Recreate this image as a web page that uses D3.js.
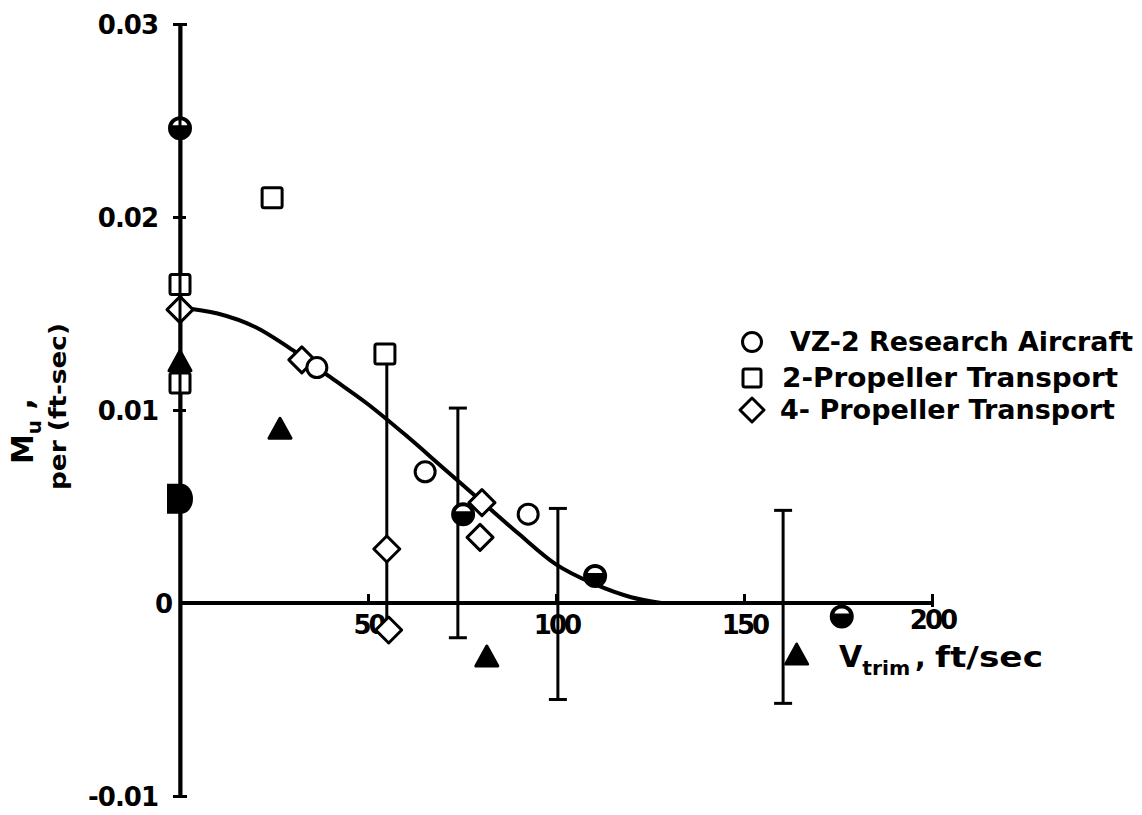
<!DOCTYPE html>
<html>
<head>
<meta charset="utf-8">
<script src="https://cdn.jsdelivr.net/npm/d3@7/dist/d3.min.js"></script>
<style>
  html, body { margin: 0; padding: 0; background: #fff; }
  svg { display: block; }
  text { font-family: "DejaVu Sans", sans-serif; font-weight: bold; fill: #000; }
</style>
</head>
<body>
<svg id="chart" width="1142" height="815"></svg>
<script>
// Pitching moment due to speed, Mu, against trim speed

// Y-axis tick values and labels
const yTicks = [0.03, 0.02, 0.01, 0, -0.01];
const yTickLabels = ["0.03", "0.02", "0.01", "0", "-0.01"];
// X-axis tick values and labels
const xTicks = [50, 100, 150, 200];
const xTickLabels = ["50", "100", "150", "200"];

// VZ-2 research aircraft (open circles)
const vz2V = [36.4, 65.2, 92.6];
const vz2M = [0.0122, 0.0068, 0.0046];
// VZ-2 research aircraft (half-filled circles)
const vz2HalfV = [0, 75.3, 110.4, 176];
const vz2HalfM = [0.0246, 0.0046, 0.0014, -0.0007];

// 2-propeller transport (open squares)
const twoPropV = [0, 0, 24.5, 54.5];
const twoPropM = [0.0165, 0.0114, 0.0210, 0.0129];

// 4-propeller transport (open diamonds)
const fourPropV = [0, 32.4, 55, 55.5, 80.3, 79.8];
const fourPropM = [0.0152, 0.0126, 0.0028, -0.0014, 0.0052, 0.0034];

// Solid triangles
const triV = [0, 26.6, 81.6, 164];
const triM = [0.0125, 0.0090, -0.0028, -0.0027];

// Solid D-shaped point
const solidDV = [0];
const solidDM = [0.0054];

// Scatter bars
const barV = [55, 73.9, 100.5, 160.4];
const barLo = [-0.0014, -0.0018, -0.0050, -0.0052];
const barHi = [0.0129, 0.0101, 0.0049, 0.0048];
const barCapped = [false, true, true, true];

// Faired curve
const curveV = [0, 10, 20, 30, 40, 50, 60, 70, 80, 90, 100, 110, 120, 128];
const curveM = [0.0153, 0.0150, 0.0143, 0.0131, 0.0117, 0.0103, 0.0087, 0.0070, 0.0053, 0.0036, 0.0020, 0.0010, 0.0003, 0];

// Legend
const legendLabels = ["VZ-2 Research Aircraft", "2-Propeller Transport", "4- Propeller Transport"];
const legendShapes = ["circle", "square", "diamond"];

const svg = d3.select("#chart");
const x = d3.scaleLinear().domain([0, 200]).range([180, 932]);
const y = d3.scaleLinear().domain([-0.01, 0.03]).range([796, 24]);

const zip = (a, b) => a.map((v, i) => ({ v, m: b[i] }));
const INK = "#000";

// ---- Y axis ----
const yAxis = d3.axisLeft(y)
  .tickValues(yTicks)
  .tickFormat((d, i) => yTickLabels[i])
  .tickSizeOuter(0)
  .tickPadding(22);
const gy = svg.append("g").attr("transform", `translate(${x(0)},0)`).call(yAxis);
gy.select(".domain").attr("stroke", INK).attr("stroke-width", 4);
gy.selectAll(".tick line")
  .attr("stroke", INK).attr("stroke-width", 3)
  .attr("x1", -7).attr("x2", d => (d === 0.03 || d === -0.01) ? 7 : 6)
  .attr("opacity", d => d === 0 ? 0 : 1);
gy.selectAll(".tick text")
  .attr("font-size", 26)
  .attr("letter-spacing", -1)
  .attr("x", d => d === 0 ? -8 : -22)
  .attr("dy", "0.36em");

// ---- X axis ----
const xAxis = d3.axisBottom(x)
  .tickValues(xTicks)
  .tickFormat((d, i) => xTickLabels[i])
  .tickSizeOuter(0)
  .tickSizeInner(0)
  .tickPadding(0);
const gx = svg.append("g").attr("transform", `translate(0,${y(0)})`).call(xAxis);
gx.select(".domain").attr("stroke", INK).attr("stroke-width", 4)
  .attr("d", `M${x(0)},0H${x(200)}`);
gx.selectAll(".tick line")
  .attr("stroke", INK).attr("stroke-width", 3)
  .attr("y1", -9).attr("y2", d => d === 200 ? 4 : 0);
gx.selectAll(".tick text")
  .attr("font-size", 26)
  .attr("letter-spacing", -3)
  .attr("y", d => d === 200 ? 17 : 22)
  .attr("dy", "0.36em");

// ---- Scatter bars ----
const bars = barV.map((v, i) => ({ v, lo: barLo[i], hi: barHi[i], cap: barCapped[i] }));
const gb = svg.append("g").attr("stroke", INK).attr("stroke-width", 3);
gb.selectAll("line.bar").data(bars).join("line").attr("class", "bar")
  .attr("x1", d => x(d.v)).attr("x2", d => x(d.v))
  .attr("y1", d => y(d.lo)).attr("y2", d => y(d.hi));
gb.selectAll("line.capHi").data(bars.filter(d => d.cap)).join("line").attr("class", "capHi")
  .attr("x1", d => x(d.v) - 9).attr("x2", d => x(d.v) + 9)
  .attr("y1", d => y(d.hi)).attr("y2", d => y(d.hi));
gb.selectAll("line.capLo").data(bars.filter(d => d.cap)).join("line").attr("class", "capLo")
  .attr("x1", d => x(d.v) - 9).attr("x2", d => x(d.v) + 9)
  .attr("y1", d => y(d.lo)).attr("y2", d => y(d.lo));

// ---- Faired curve ----
const line = d3.line().x(d => x(d.v)).y(d => y(d.m)).curve(d3.curveMonotoneX);
svg.append("path").datum(zip(curveV, curveM))
  .attr("d", line).attr("fill", "none")
  .attr("stroke", INK).attr("stroke-width", 4).attr("stroke-linecap", "round");

// ---- Symbols ----
const sq = 20, dia = 13, rad = 10;
function drawSquares(g, pts) {
  g.selectAll(null).data(pts).join("rect")
    .attr("x", d => x(d.v) - sq / 2).attr("y", d => y(d.m) - sq / 2)
    .attr("width", sq).attr("height", sq).attr("rx", 2)
    .attr("fill", "#fff").attr("stroke", INK).attr("stroke-width", 3);
}
function drawDiamonds(g, pts) {
  g.selectAll(null).data(pts).join("path")
    .attr("transform", d => `translate(${x(d.v)},${y(d.m)})`)
    .attr("d", `M0,${-dia}L${dia},0L0,${dia}L${-dia},0Z`)
    .attr("fill", "#fff").attr("stroke", INK).attr("stroke-width", 3)
    .attr("stroke-linejoin", "round");
}
function drawCircles(g, pts) {
  g.selectAll(null).data(pts).join("circle")
    .attr("cx", d => x(d.v)).attr("cy", d => y(d.m)).attr("r", rad)
    .attr("fill", "#fff").attr("stroke", INK).attr("stroke-width", 3);
}
function drawHalfCircles(g, pts) {
  const r = 11, h = 3;
  const gg = g.selectAll(null).data(pts).join("g")
    .attr("transform", d => `translate(${x(d.v)},${y(d.m)})`);
  gg.append("circle").attr("r", r).attr("fill", INK).attr("stroke", INK).attr("stroke-width", 2);
  const ri = r - 3, wi = Math.sqrt(ri * ri - h * h);
  gg.append("path")
    .attr("d", `M${-wi},${-h}A${ri},${ri} 0 0 1 ${wi},${-h}Z`)
    .attr("fill", "#fff");
}
function drawTriangles(g, pts) {
  g.selectAll(null).data(pts).join("path")
    .attr("transform", d => `translate(${x(d.v)},${y(d.m)})`)
    .attr("d", "M0,-11L11,9L-11,9Z")
    .attr("fill", INK).attr("stroke", INK).attr("stroke-width", 3)
    .attr("stroke-linejoin", "round");
}
function drawSolidD(g, pts) {
  g.selectAll(null).data(pts).join("path")
    .attr("transform", d => `translate(${x(d.v)},${y(d.m)})`)
    .attr("d", "M-13,-15H1A12,15 0 0 1 1,15H-13Z")
    .attr("fill", INK);
}

const gm = svg.append("g");
drawTriangles(gm, zip(triV, triM));
drawSquares(gm, zip(twoPropV, twoPropM));
drawDiamonds(gm, zip(fourPropV, fourPropM));
drawCircles(gm, zip(vz2V, vz2M));
drawHalfCircles(gm, zip(vz2HalfV, vz2HalfM));
drawSolidD(gm, zip(solidDV, solidDM));

// the y axis line runs over the symbols sitting on it
svg.append("line")
  .attr("x1", x(0)).attr("x2", x(0)).attr("y1", y(0.03)).attr("y2", y(-0.01))
  .attr("stroke", INK).attr("stroke-width", 3);

// ---- Axis titles ----
const yTitle = svg.append("g").attr("transform", "rotate(-90)");
const t1 = yTitle.append("text").attr("x", -464).attr("y", 33).attr("font-size", 30);
t1.append("tspan").text("M");
t1.append("tspan").attr("font-size", 20).attr("dy", 8).text("u");
t1.append("tspan").attr("dy", -8).text(" ,");
yTitle.append("text").attr("x", -490).attr("y", 66).attr("font-size", 23)
  .attr("textLength", 167).attr("lengthAdjust", "spacingAndGlyphs")
  .text("per (ft-sec)");

const xTitle = svg.append("text").attr("x", 839).attr("y", 667).attr("font-size", 30);
xTitle.append("tspan").text("V");
xTitle.append("tspan").attr("font-size", 20).attr("dy", 8).attr("textLength", 48)
  .attr("lengthAdjust", "spacingAndGlyphs").text("trim");
svg.append("text").attr("x", 915).attr("y", 667).attr("font-size", 28).text(",");
svg.append("text").attr("x", 935).attr("y", 667).attr("font-size", 28)
  .attr("textLength", 108).attr("lengthAdjust", "spacingAndGlyphs").text("ft/sec");

// ---- Legend ----
const legY = [342, 378, 410];
const legTextX = [790, 782, 780];
const legTextW = [343, 336, 335];
const gl = svg.append("g");
legendLabels.forEach((lab, i) => {
  const cx = 752, cy = legY[i];
  if (legendShapes[i] === "circle") {
    gl.append("circle").attr("cx", cx).attr("cy", cy).attr("r", 9.5)
      .attr("fill", "#fff").attr("stroke", INK).attr("stroke-width", 3);
  } else if (legendShapes[i] === "square") {
    gl.append("rect").attr("x", cx - 9).attr("y", cy - 9).attr("width", 18).attr("height", 18).attr("rx", 2)
      .attr("fill", "#fff").attr("stroke", INK).attr("stroke-width", 3);
  } else {
    gl.append("path").attr("transform", `translate(${cx},${cy})`)
      .attr("d", "M0,-12L12,0L0,12L-12,0Z")
      .attr("fill", "#fff").attr("stroke", INK).attr("stroke-width", 3).attr("stroke-linejoin", "round");
  }
  gl.append("text").attr("x", legTextX[i]).attr("y", cy).attr("dy", "0.36em")
    .attr("font-size", 26)
    .attr("textLength", legTextW[i]).attr("lengthAdjust", "spacingAndGlyphs")
    .text(lab);
});
</script>
</body>
</html>
